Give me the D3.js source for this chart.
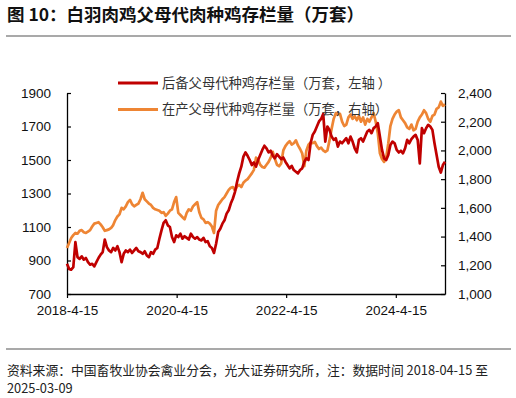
<!DOCTYPE html>
<html><head><meta charset="utf-8">
<script src="https://cdn.jsdelivr.net/npm/d3@7/dist/d3.min.js"></script>
<style>
body{margin:0;background:#fff;}
svg{display:block;font-family:"Liberation Sans",Arial,"Noto Sans CJK SC",sans-serif;}
</style></head><body>
<svg id="c" width="516" height="398"></svg>
<script>
const startDate = "2018-04-15";
const endDate = "2025-03-09";
const stepDays = 14;
const xTickLabels = ["2018-4-15","2020-4-15","2022-4-15","2024-4-15"];
const leftTicks = [700,900,1100,1300,1500,1700,1900];
const rightTicks = [1000,1200,1400,1600,1800,2000,2200,2400];
const seriesNames = ["后备父母代种鸡存栏量（万套，左轴 ）","在产父母代种鸡存栏量（万套，右轴）"];
// 后备 (left axis)
const reserve = [880,850,845,860,1010,920,910,925,905,915,890,875,880,865,890,915,935,950,1025,980,
960,950,975,960,985,950,890,940,960,950,965,945,960,975,955,950,940,955,930,920,
950,940,965,975,1030,1080,1125,1140,1110,1100,1040,1010,1050,1040,1060,1030,1045,1035,1025,1060,
1040,1030,1040,1025,1020,1035,1010,1015,985,975,945,1000,1070,1090,1120,1140,1180,1200,1240,1270,
1310,1370,1420,1460,1520,1545,1525,1500,1470,1485,1460,1500,1530,1560,1585,1570,1545,1555,1525,1510,
1535,1520,1505,1515,1490,1470,1450,1465,1440,1430,1420,1440,1450,1490,1510,1500,1600,1650,1670,1700,
1730,1745,1775,1610,1700,1680,1640,1620,1630,1580,1610,1600,1615,1630,1600,1640,1610,1570,1545,1620,
1630,1610,1640,1670,1680,1660,1690,1700,1720,1640,1560,1510,1500,1530,1590,1610,1600,1560,1545,1555,
1540,1570,1620,1600,1625,1640,1650,1620,1480,1690,1660,1690,1710,1700,1680,1600,1530,1460,1425,1470,1490];
// 在产 (right axis)
const producing = [1320,1355,1390,1410,1425,1420,1440,1445,1430,1425,1435,1445,1470,1490,1495,1500,1485,1465,1440,1445,
1450,1460,1480,1515,1540,1555,1600,1590,1610,1640,1655,1625,1610,1620,1630,1660,1705,1660,1645,1630,
1620,1600,1590,1585,1580,1565,1570,1545,1560,1580,1590,1640,1675,1565,1550,1535,1520,1565,1590,1580,
1610,1625,1640,1570,1530,1520,1495,1500,1490,1470,1425,1580,1620,1640,1660,1675,1700,1725,1740,1745,
1720,1750,1760,1745,1775,1790,1800,1820,1840,1865,1950,1935,1900,1885,1880,1900,1920,1950,1990,1940,
1900,1890,1910,2000,2030,2050,2065,2040,2050,2070,2035,2010,1980,1890,2000,2040,2055,2050,2060,2030,
2010,2020,2000,1990,2000,2070,2150,2220,2260,2250,2255,2200,2170,2180,2230,2250,2220,2240,2210,2240,
2200,2230,2180,2220,2200,2230,2260,2200,2120,1980,1940,1920,1950,2050,2170,2220,2250,2270,2280,2230,
2210,2190,2160,2150,2180,2140,2150,2200,2230,2250,2280,2260,2220,2200,2240,2250,2290,2300,2340,2310,2320];

const parse = d3.timeParse("%Y-%m-%d");
const t0 = parse(startDate);
const dates = reserve.map((_, i) => d3.timeDay.offset(t0, i * stepDays));
const svg = d3.select("#c");

const x = d3.scaleTime().domain([t0, parse(endDate)]).range([67, 445]);
const yL = d3.scaleLinear().domain([700, 1900]).range([294, 93]);
const yR = d3.scaleLinear().domain([1000, 2400]).range([294, 93]);

// title & rules
svg.append("text").attr("x", 7).attr("y", 21).attr("font-size", 17.5).attr("font-weight", "bold")
  .attr("fill", "#111").attr("font-family", "'Noto Sans CJK SC',sans-serif")
  .text("图 10：白羽肉鸡父母代肉种鸡存栏量（万套）");
svg.append("line").attr("x1", 6).attr("x2", 511).attr("y1", 36).attr("y2", 36).attr("stroke", "#8c8c8c").attr("stroke-width", 1.6);
svg.append("line").attr("x1", 6).attr("x2", 511).attr("y1", 349).attr("y2", 349).attr("stroke", "#8c8c8c").attr("stroke-width", 1.6);
svg.append("text").attr("x", 7).attr("y", 375).attr("font-size", 12.8).attr("fill", "#222")
  .attr("font-family", "'Noto Sans CJK SC',sans-serif")
  .text("资料来源：中国畜牧业协会禽业分会，光大证券研究所，注：数据时间 2018-04-15 至");
svg.append("text").attr("x", 7).attr("y", 393).attr("font-size", 12.8).attr("fill", "#222")
  .attr("font-family", "'Noto Sans CJK SC',sans-serif")
  .text("2025-03-09");

// axes
const fmtTick = d3.timeFormat("%Y-%-m-%-d");
const xTicks = xTickLabels.map(s => { const p = s.split("-"); return new Date(+p[0], +p[1]-1, +p[2]); });
const gx = svg.append("g").attr("transform", "translate(0,294)")
  .call(d3.axisBottom(x).tickValues(xTicks).tickFormat(fmtTick).tickSizeInner(4).tickSizeOuter(0).tickPadding(7));
const gl = svg.append("g").attr("transform", "translate(67,0)")
  .call(d3.axisLeft(yL).tickValues(leftTicks).tickFormat(d3.format("d")).tickSizeInner(-4).tickSizeOuter(0).tickPadding(16));
const gr = svg.append("g").attr("transform", "translate(445,0)")
  .call(d3.axisRight(yR).tickValues(rightTicks).tickFormat(d3.format(",")).tickSizeInner(-4).tickSizeOuter(0).tickPadding(13));
[gx, gl, gr].forEach(g => {
  g.select(".domain").attr("stroke", "#000").attr("stroke-width", 1.3);
  g.selectAll(".tick line").attr("stroke", "#000").attr("stroke-width", 1.2);
  g.selectAll(".tick text").attr("font-size", 13.5).attr("fill", "#111").attr("font-family", "'Liberation Sans',Arial,sans-serif");
});

// lines
const lineR = d3.line().x((d, i) => x(dates[i])).y(d => yR(d));
const lineL = d3.line().x((d, i) => x(dates[i])).y(d => yL(d));
svg.append("path").datum(producing).attr("d", lineR).attr("fill", "none")
  .attr("stroke", "#EE8534").attr("stroke-width", 2.7).attr("stroke-linejoin", "round");
svg.append("path").datum(reserve).attr("d", lineL).attr("fill", "none")
  .attr("stroke", "#C00000").attr("stroke-width", 2.7).attr("stroke-linejoin", "round");

// legend
const colors = ["#C00000", "#EE8534"];
seriesNames.forEach((n, i) => {
  const yy = 83 + i * 26.5;
  svg.append("line").attr("x1", 118).attr("x2", 158).attr("y1", yy).attr("y2", yy)
    .attr("stroke", colors[i]).attr("stroke-width", 2.8);
  svg.append("text").attr("x", 162).attr("y", yy + 4.5).attr("font-size", 13.3).attr("fill", "#333")
    .attr("font-family", "'Noto Sans CJK SC',sans-serif").text(n);
});
</script>
</body></html>
